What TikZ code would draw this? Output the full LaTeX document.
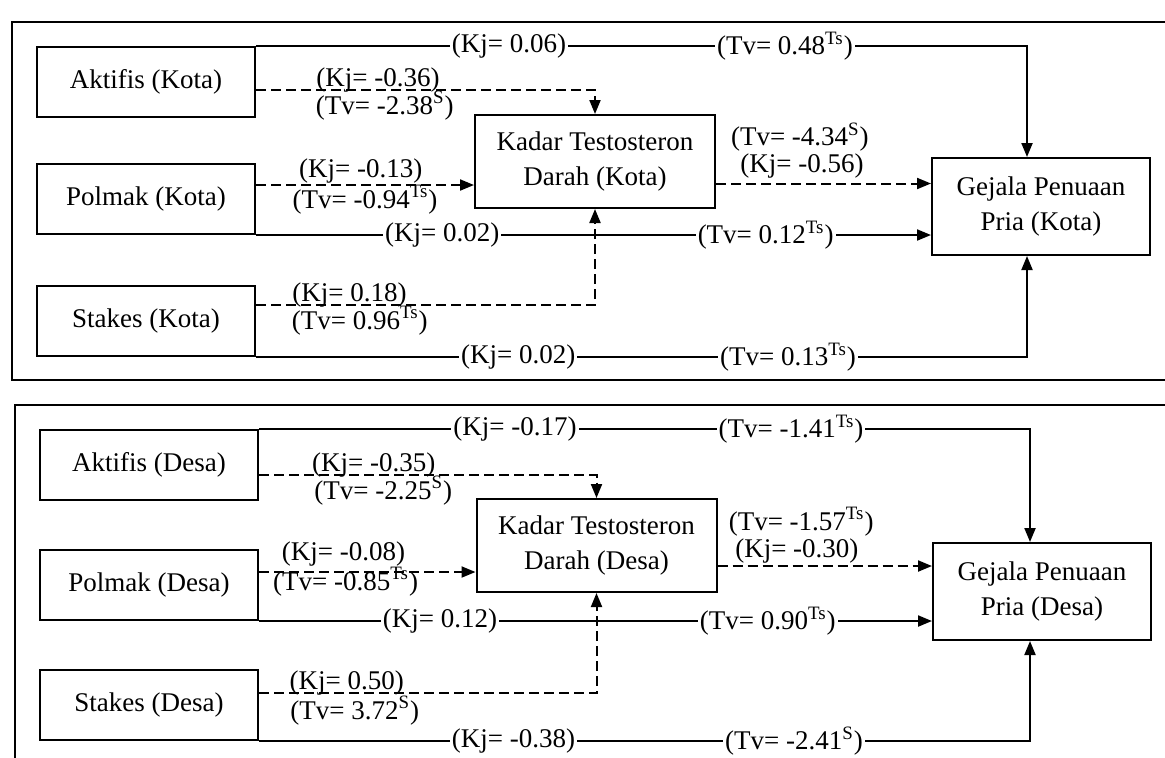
\documentclass[tikz,border=0pt]{standalone}
\usepackage{fontspec}
\setmainfont{Liberation Serif}
\usetikzlibrary{arrows.meta,positioning}

\begin{document}
\begin{tikzpicture}[
    x=0.5pt, y=-0.5pt,
    >={Triangle[length=7pt,width=5.5pt]},
    every node/.style={font=\fontsize{13.5}{17.5}\selectfont},
    inbox/.style={draw, line width=1pt, align=center, minimum width=109pt, minimum height=35pt, inner sep=2pt},
    medbox/.style={inbox, minimum width=120pt, minimum height=46.5pt},
    outbox/.style={inbox, minimum width=109pt, minimum height=48.5pt},
    panel/.style={line width=1.3pt},
    sline/.style={->, line width=1pt},
    dline/.style={->, line width=1pt, dash pattern=on 5pt off 2.5pt},
    onl/.style={fill=white, inner sep=1pt},
    kj/.style={anchor=base, yshift=2pt, inner sep=0pt},
    tv/.style={anchor=base, yshift=-12pt, inner sep=0pt}
]
\useasboundingbox (0,0) rectangle (1165,757);

% panels
\draw[panel] (1185,22) -- (12,22) -- (12,380) -- (1185,380);
\draw[panel] (1185,405) -- (15,405) -- (15,790);

% Kota
\node[inbox] (aktK) at (146,82) {Aktifis (Kota)};
\node[inbox] (polK) at (146,199) {Polmak (Kota)};
\node[inbox] (staK) at (146,321) {Stakes (Kota)};
\node[medbox] (kadK) at (595,161.5) {Kadar Testosteron\\Darah (Kota)};
\node[outbox] (gejK) at (1041,206.5) {Gejala Penuaan\\Pria (Kota)};

\draw[sline] (aktK.north east) -| node[onl,pos=.164]{(Kj= 0.06)} node[onl,pos=.343]{(Tv= 0.48\textsuperscript{Ts})} ([xshift=-7pt]gejK.north);
\draw[dline] ([yshift=-4pt]aktK.east) -| node[kj,pos=.18]{(Kj= -0.36)} node[tv,pos=.19]{(Tv= -2.38\textsuperscript{S})} (kadK.north);
\draw[dline] ([yshift=7pt]polK.east) -- node[kj,pos=.48,yshift=2pt]{(Kj= -0.13)} node[tv,pos=.5,yshift=0.5pt]{(Tv= -0.94\textsuperscript{Ts})} ([yshift=7pt]polK.east -| kadK.west);
\draw[sline] (polK.south east) -- node[onl,pos=.276]{(Kj= 0.02)} node[onl,pos=.755]{(Tv= 0.12\textsuperscript{Ts})} (polK.south east -| gejK.west);
\draw[dline] ([yshift=-11pt]kadK.east) -- node[kj,pos=.4,yshift=3.5pt]{(Kj= -0.56)} node[kj,pos=.39,yshift=17pt]{(Tv= -4.34\textsuperscript{S})} ([yshift=-11pt]kadK.east -| gejK.west);
\draw[dline] ([yshift=8pt]staK.east) -| node[kj,pos=.138]{(Kj= 0.18)} node[tv,pos=.153]{(Tv= 0.96\textsuperscript{Ts})} (kadK.south);
\draw[sline] (staK.south east) -| node[onl,pos=.17]{(Kj= 0.02)} node[onl,pos=.345]{(Tv= 0.13\textsuperscript{Ts})} ([xshift=-7pt]gejK.south);

% Desa
\node[inbox] (aktD) at (149,465) {Aktifis (Desa)};
\node[inbox] (polD) at (149,585) {Polmak (Desa)};
\node[inbox] (staD) at (149,705) {Stakes (Desa)};
\node[medbox] (kadD) at (596.5,545.5) {Kadar Testosteron\\Darah (Desa)};
\node[outbox] (gejD) at (1042,591.5) {Gejala Penuaan\\Pria (Desa)};

\draw[sline] (aktD.north east) -| node[onl,pos=.166]{(Kj= -0.17)} node[onl,pos=.345]{(Tv= -1.41\textsuperscript{Ts})} ([xshift=-6pt]gejD.north);
\draw[dline] ([yshift=-5pt]aktD.east) -| node[kj,pos=.17]{(Kj= -0.35)} node[tv,pos=.184]{(Tv= -2.25\textsuperscript{S})} (kadD.north);
\draw[dline] ([yshift=6.5pt]polD.east) -- node[kj,pos=.39,yshift=4pt]{(Kj= -0.08)} node[tv,pos=.4,yshift=3pt]{(Tv= -0.85\textsuperscript{Ts})} ([yshift=6.5pt]polD.east -| kadD.west);
\draw[sline] (polD.south east) -- node[onl,pos=.269]{(Kj= 0.12)} node[onl,pos=.756]{(Tv= 0.90\textsuperscript{Ts})} (polD.south east -| gejD.west);
\draw[dline] ([yshift=-10.25pt]kadD.east) -- node[kj,pos=.37,yshift=2.5pt]{(Kj= -0.30)} node[kj,pos=.39,yshift=16pt]{(Tv= -1.57\textsuperscript{Ts})} ([yshift=-10.25pt]kadD.east -| gejD.west);
\draw[dline] ([yshift=6pt]staD.east) -| node[kj,pos=.13]{(Kj= 0.50)} node[tv,pos=.142,yshift=-1pt]{(Tv= 3.72\textsuperscript{S})} (kadD.south);
\draw[sline] (staD.south east) -| node[onl,pos=.165]{(Kj= -0.38)} node[onl,pos=.347]{(Tv= -2.41\textsuperscript{S})} ([xshift=-6pt]gejD.south);

\end{tikzpicture}
\end{document}
